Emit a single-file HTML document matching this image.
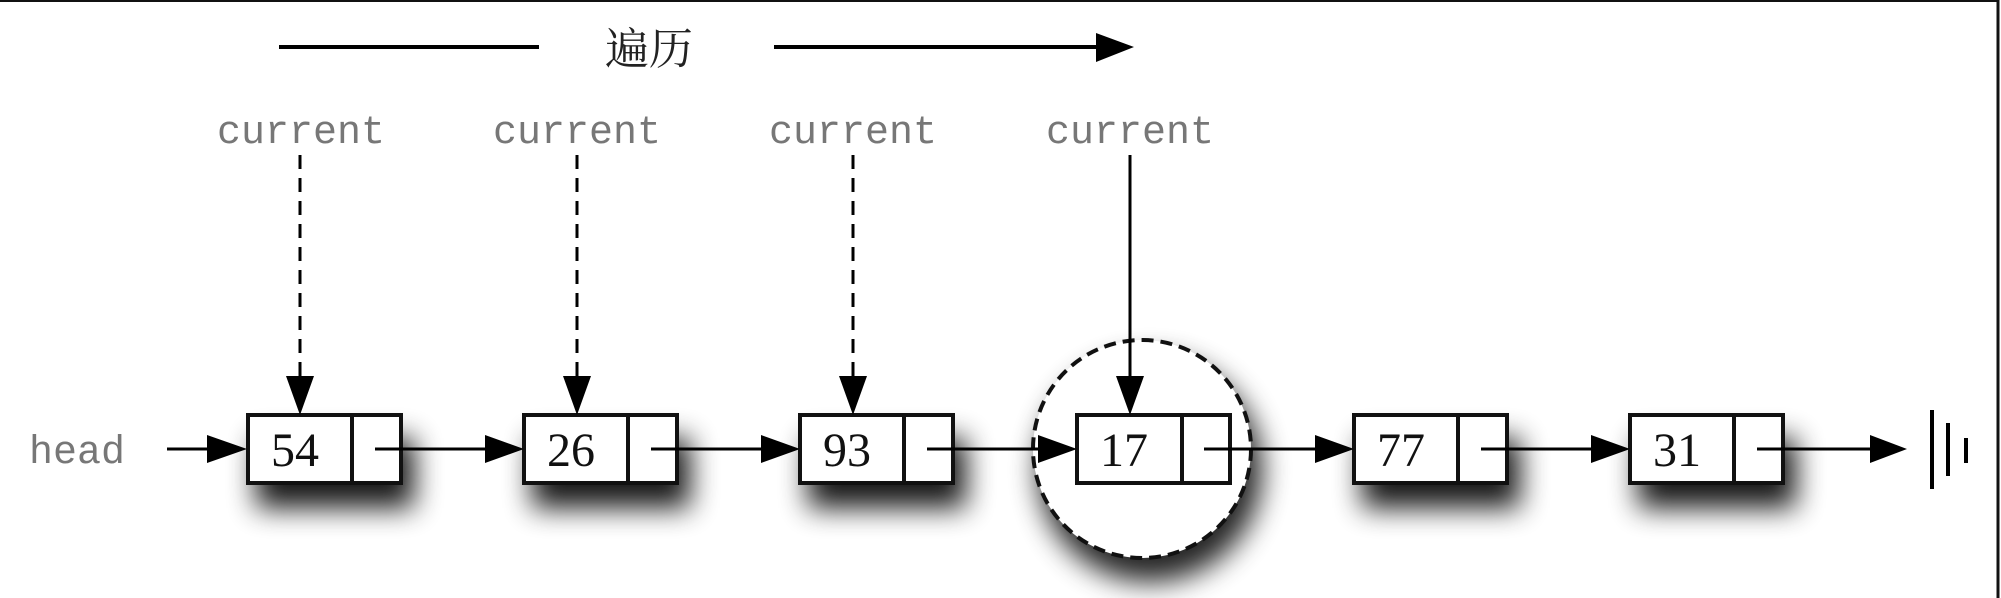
<!DOCTYPE html>
<html><head><meta charset="utf-8"><style>
html,body{margin:0;padding:0;background:#fff;}
svg{display:block;}
.mono{font-family:"Liberation Mono",monospace;font-size:40px;fill:#777;}
.num{font-family:"Liberation Serif",serif;font-size:48px;fill:#111;}
</style></head><body>
<svg width="2001" height="598" viewBox="0 0 2001 598" xmlns="http://www.w3.org/2000/svg">
<defs>
<filter id="sh" x="-50%" y="-50%" width="200%" height="250%"><feGaussianBlur stdDeviation="14"/></filter>
</defs>
<rect x="0" y="0" width="2001" height="598" fill="#fff"/>
<line x1="0" y1="1" x2="1999" y2="1" stroke="#111" stroke-width="2"/>
<line x1="1998" y1="0" x2="1998" y2="598" stroke="#111" stroke-width="3"/>

<line x1="279" y1="47" x2="539" y2="47" stroke="#000" stroke-width="4"/>
<text x="649" y="64" text-anchor="middle" style="font-family:'Liberation Serif','Noto Serif CJK SC',serif;font-size:44px;fill:#222;">遍历</text>
<line x1="774" y1="47" x2="1100" y2="47" stroke="#000" stroke-width="4"/>
<polygon points="1096,33 1134,47 1096,62" fill="#000"/>

<ellipse cx="1150" cy="470" rx="112" ry="112" fill="#000" opacity="0.85" filter="url(#sh)"/>
<ellipse cx="1142" cy="449" rx="109" ry="109" fill="#fff" stroke="#111" stroke-width="4" stroke-dasharray="12,7"/>

<g fill="#000" opacity="0.9" filter="url(#sh)">
<rect x="256" y="438" width="158" height="70"/>
<rect x="532" y="438" width="158" height="70"/>
<rect x="808" y="438" width="158" height="70"/>
<rect x="1362" y="438" width="158" height="70"/>
<rect x="1638" y="438" width="158" height="70"/>
</g>

<text x="29" y="463" class="mono">head</text>
<line x1="167" y1="449" x2="212" y2="449" stroke="#000" stroke-width="3"/>
<polygon points="207,435 247,449 207,463" fill="#000"/>

<g stroke="#111" stroke-width="4" fill="#fff">
<rect x="248" y="415" width="153" height="68"/>
<rect x="524" y="415" width="153" height="68"/>
<rect x="800" y="415" width="153" height="68"/>
<rect x="1077" y="415" width="153" height="68"/>
<rect x="1354" y="415" width="153" height="68"/>
<rect x="1630" y="415" width="153" height="68"/>
</g>
<g stroke="#111" stroke-width="4">
<line x1="352" y1="415" x2="352" y2="483"/>
<line x1="628" y1="415" x2="628" y2="483"/>
<line x1="904" y1="415" x2="904" y2="483"/>
<line x1="1182" y1="415" x2="1182" y2="483"/>
<line x1="1458" y1="415" x2="1458" y2="483"/>
<line x1="1734" y1="415" x2="1734" y2="483"/>
</g>
<text x="295" y="466" text-anchor="middle" class="num">54</text>
<text x="571" y="466" text-anchor="middle" class="num">26</text>
<text x="847" y="466" text-anchor="middle" class="num">93</text>
<text x="1124" y="466" text-anchor="middle" class="num">17</text>
<text x="1401" y="466" text-anchor="middle" class="num">77</text>
<text x="1677" y="466" text-anchor="middle" class="num">31</text>

<g stroke="#000" stroke-width="3">
<line x1="375" y1="449" x2="490" y2="449"/>
<line x1="651" y1="449" x2="766" y2="449"/>
<line x1="927" y1="449" x2="1043" y2="449"/>
<line x1="1204" y1="449" x2="1320" y2="449"/>
<line x1="1481" y1="449" x2="1596" y2="449"/>
<line x1="1757" y1="449" x2="1872" y2="449"/>
</g>
<g fill="#000">
<polygon points="485,435 524,449 485,463"/>
<polygon points="761,435 800,449 761,463"/>
<polygon points="1038,435 1077,449 1038,463"/>
<polygon points="1315,435 1354,449 1315,463"/>
<polygon points="1591,435 1630,449 1591,463"/>
<polygon points="1870,435 1907,449 1870,463"/>
</g>
<g stroke="#000" stroke-width="4">
<line x1="1932" y1="410" x2="1932" y2="489"/>
<line x1="1948" y1="423" x2="1948" y2="476"/>
<line x1="1966" y1="438" x2="1966" y2="463"/>
</g>

<text x="301" y="143" text-anchor="middle" class="mono">current</text>
<text x="577" y="143" text-anchor="middle" class="mono">current</text>
<text x="853" y="143" text-anchor="middle" class="mono">current</text>
<text x="1130" y="143" text-anchor="middle" class="mono">current</text>
<g stroke="#000" stroke-width="3" stroke-dasharray="14,9">
<line x1="300" y1="155" x2="300" y2="378"/>
<line x1="577" y1="155" x2="577" y2="378"/>
<line x1="853" y1="155" x2="853" y2="378"/>
</g>
<line x1="1130" y1="155" x2="1130" y2="380" stroke="#000" stroke-width="3"/>
<g fill="#000">
<polygon points="286,376 314,376 300,415"/>
<polygon points="563,376 591,376 577,415"/>
<polygon points="839,376 867,376 853,415"/>
<polygon points="1116,376 1144,376 1130,415"/>
</g>
</svg>
</body></html>
